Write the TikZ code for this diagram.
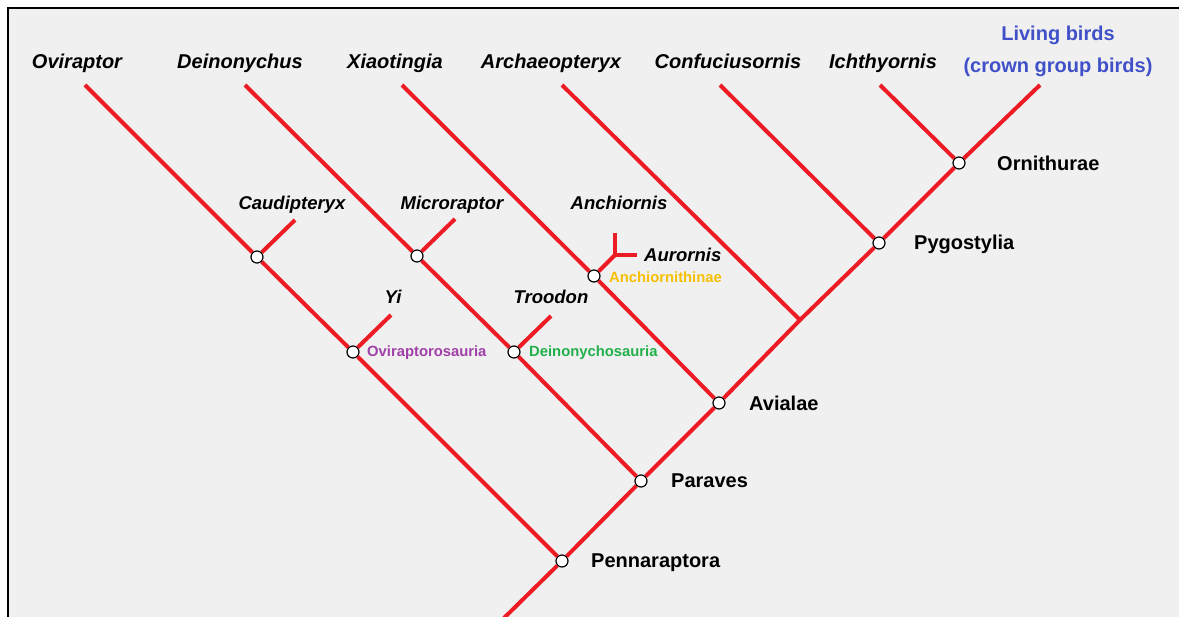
\documentclass[tikz,border=0pt]{standalone}
\usepackage{fontspec}
\setmainfont{Liberation Sans}
\definecolor{treered}{HTML}{ED1C24}
\definecolor{panelgrey}{HTML}{F0F0F0}
\definecolor{livingblue}{HTML}{4050C8}
\definecolor{ovirpurple}{HTML}{A040A8}
\definecolor{deingreen}{HTML}{22B04A}
\definecolor{anchgold}{HTML}{F5C000}
\begin{document}
\begin{tikzpicture}[
    x=1pt, y=-1pt,
    branch_style/.style={treered, line width=4pt},
    clade_style/.style={circle, draw, fill=white, line width=1.2pt, minimum size=12pt, inner sep=0pt},
    taxon_style/.style={font=\fontsize{20}{24}\selectfont\bfseries\itshape, anchor=base, inner sep=0pt},
    inner_style/.style={taxon_style, font=\fontsize{18.5}{22}\selectfont\bfseries\itshape},
    name_style/.style={font=\fontsize{20}{24}\selectfont\bfseries, anchor=base west, inner sep=0pt},
    small_style/.style={font=\fontsize{14.8}{17}\selectfont\bfseries, anchor=base west, inner sep=0pt}
]
% Cadre
\fill[white] (0,0) rectangle (1179,617);
\useasboundingbox (0,0) rectangle (1179,617);
\fill[panelgrey] (8,8) rectangle (1179,617);
\draw[line width=1.5pt] (8,617) -- (8,8) -- (1179,8);

% Extremites des branches
\coordinate (root) at (504,618);
\coordinate (jarch) at (800,320);
\coordinate (tOvi) at (85,85);
\coordinate (tDei) at (245,85);
\coordinate (tXia) at (402,85);
\coordinate (tArc) at (562,85);
\coordinate (tCon) at (720,85);
\coordinate (tIch) at (880,85);
\coordinate (tLiv) at (1040,85);
\coordinate (tCau) at (295,220);
\coordinate (tYi) at (391,315);
\coordinate (tMic) at (455,219);
\coordinate (tTro) at (551,316);
\coordinate (fAur) at (615,255);
\coordinate (tAnc) at (615,233);
\coordinate (tAur) at (637,255);

% Noeuds
\node[clade_style] (penn) at (562,561) {};
\node[clade_style] (parav) at (641,481) {};
\node[clade_style] (avial) at (719,403) {};
\node[clade_style] (pygo) at (879,243) {};
\node[clade_style] (ornith) at (959,163) {};
\node[clade_style] (ovrs) at (353,352) {};
\node[clade_style] (caud) at (257,257) {};
\node[clade_style] (dein) at (514,352) {};
\node[clade_style] (micro) at (417,256) {};
\node[clade_style] (anch) at (594,276) {};

% Tronc
\draw[branch_style] (root) -- (penn);
\draw[branch_style] (penn) -- (parav);
\draw[branch_style] (parav) -- (avial);
\draw[branch_style] (avial) -- (jarch);
\draw[branch_style] (jarch) -- (pygo);
\draw[branch_style] (pygo) -- (ornith);
\draw[branch_style] (ornith) -- (tLiv);
% Branches
\draw[branch_style] (penn) -- (ovrs);
\draw[branch_style] (ovrs) -- (caud);
\draw[branch_style] (caud) -- (tOvi);
\draw[branch_style] (caud) -- (tCau);
\draw[branch_style] (ovrs) -- (tYi);
\draw[branch_style] (parav) -- (dein);
\draw[branch_style] (dein) -- (micro);
\draw[branch_style] (micro) -- (tDei);
\draw[branch_style] (micro) -- (tMic);
\draw[branch_style] (dein) -- (tTro);
\draw[branch_style] (avial) -- (anch);
\draw[branch_style] (anch) -- (tXia);
\draw[branch_style] (anch) -- (fAur);
\draw[branch_style] (fAur) -- (tAnc);
\draw[branch_style] (fAur) -- (tAur);
\draw[branch_style] (jarch) -- (tArc);
\draw[branch_style] (pygo) -- (tCon);
\draw[branch_style] (ornith) -- (tIch);

% Taxons
\foreach \x/\name in {77/Oviraptor, 240/Deinonychus, 395/Xiaotingia, 551/Archaeopteryx, 728/Confuciusornis, 883/Ichthyornis} {
    \node[taxon_style] (lbl\name) at (\x,69) {\name};
}
\node[taxon_style, text=livingblue, font=\fontsize{20}{24}\selectfont\bfseries] (lblLiv) at (1058,41) {Living birds};
\node[taxon_style, text=livingblue, font=\fontsize{20}{24}\selectfont\bfseries] (lblCrown) at (1058,73) {(crown group birds)};
\node[inner_style] (lblCau) at (292,210) {Caudipteryx};
\node[inner_style] (lblYi) at (393,304) {Yi};
\node[inner_style] (lblMic) at (452,210) {Microraptor};
\node[inner_style] (lblTro) at (551,304) {Troodon};
\node[inner_style] (lblAnc) at (619,210) {Anchiornis};
\node[inner_style, anchor=base west] (lblAur) at (644,262) {Aurornis};

% Clades
\node[name_style] (lblOrn) at (997,171) {Ornithurae};
\node[name_style] (lblPyg) at (914,250) {Pygostylia};
\node[name_style] (lblAvi) at (749,411) {Avialae};
\node[name_style] (lblPar) at (671,488) {Paraves};
\node[name_style] (lblPen) at (591,568) {Pennaraptora};
\node[small_style, text=ovirpurple] (lblOvr) at (367,357) {Oviraptorosauria};
\node[small_style, text=deingreen] (lblDei) at (529,357) {Deinonychosauria};
\node[small_style, text=anchgold] (lblAnch) at (609,283) {Anchiornithinae};
\end{tikzpicture}
\end{document}
